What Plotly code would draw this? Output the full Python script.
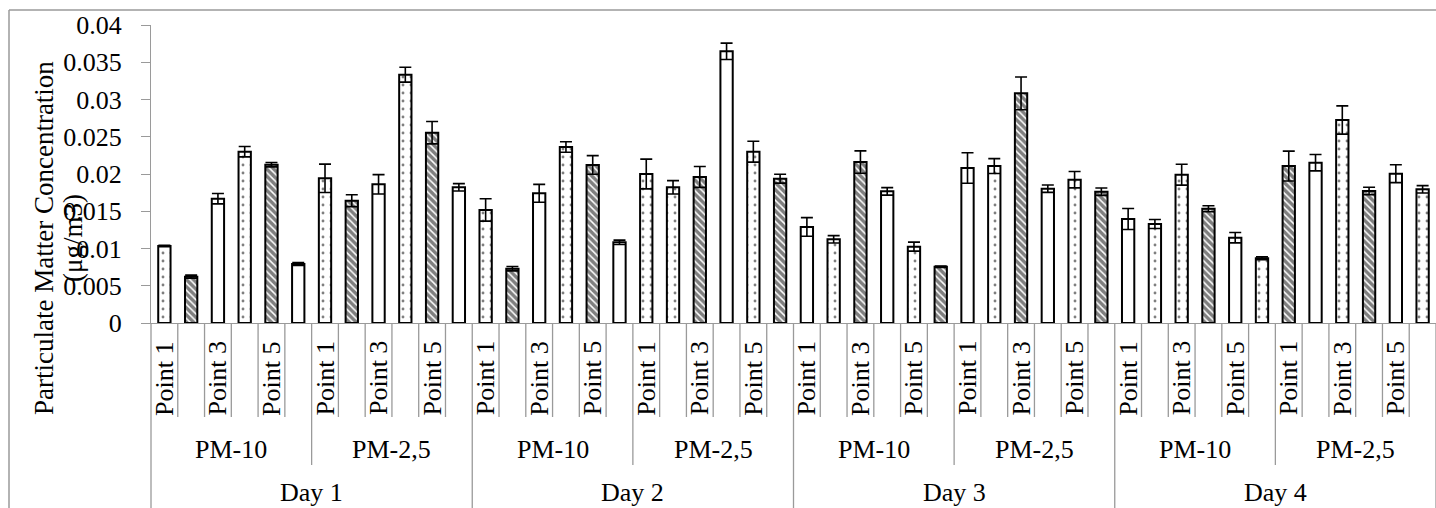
import plotly.graph_objects as go

# ---------------- data ----------------
days = ["Day 1", "Day 2", "Day 3", "Day 4"]
pm_groups = ["PM-10", "PM-2,5"]
points = ["Point 1", "Point 2", "Point 3", "Point 4", "Point 5", "Point 6"]
point_labels_shown = ["Point 1", "", "Point 3", "", "Point 5", ""]

day1_pm10 = [0.01034, 0.00622, 0.01669, 0.02300, 0.02125, 0.00792]
day1_pm25 = [0.01942, 0.01642, 0.01861, 0.03333, 0.02555, 0.01821]
day2_pm10 = [0.01517, 0.00729, 0.01741, 0.02362, 0.02121, 0.01083]
day2_pm25 = [0.02000, 0.01821, 0.01960, 0.03647, 0.02300, 0.01937]
day3_pm10 = [0.01289, 0.01123, 0.02161, 0.01767, 0.01025, 0.00756]
day3_pm25 = [0.02080, 0.02107, 0.03083, 0.01803, 0.01924, 0.01763]
day4_pm10 = [0.01396, 0.01329, 0.01991, 0.01534, 0.01145, 0.00868]
day4_pm25 = [0.02107, 0.02152, 0.02725, 0.01772, 0.02004, 0.01794]

day1_pm10_err = [0.0001, 0.0002, 0.0007, 0.0007, 0.0003, 0.0002]
day1_pm25_err = [0.0019, 0.0008, 0.0013, 0.0010, 0.0015, 0.0005]
day2_pm10_err = [0.0015, 0.0003, 0.0012, 0.0007, 0.00125, 0.0003]
day2_pm25_err = [0.0020, 0.0009, 0.0014, 0.0011, 0.0014, 0.0006]
day3_pm10_err = [0.00125, 0.0005, 0.0015, 0.0005, 0.0006, 0.0001]
day3_pm25_err = [0.00205, 0.0010, 0.0022, 0.0005, 0.0011, 0.0005]
day4_pm10_err = [0.0014, 0.0006, 0.0014, 0.0004, 0.0007, 0.0002]
day4_pm25_err = [0.0020, 0.0011, 0.0019, 0.0005, 0.0012, 0.0005]

y_tick_vals = [0, 0.005, 0.01, 0.015, 0.02, 0.025, 0.03, 0.035, 0.04]
y_tick_text = ["0", "0.005", "0.01", "0.015", "0.02", "0.025", "0.03", "0.035", "0.04"]

# ---------------- styles ----------------
D, H, P = ".", "\\", ""
bar_patterns = [
    D, H, P, D, H, P,  D, H, P, D, H, P,
    D, H, P, D, H, P,  D, D, H, P, D, H,
    P, D, H, P, D, H,  P, D, H, P, D, H,
    P, D, D, H, P, D,  H, P, D, H, P, D,
]
FONT = "Liberation Serif, Times New Roman, serif"
GRAY = "#9a9a9a"
FS = 26

values = (day1_pm10 + day1_pm25 + day2_pm10 + day2_pm25 +
          day3_pm10 + day3_pm25 + day4_pm10 + day4_pm25)
errors = (day1_pm10_err + day1_pm25_err + day2_pm10_err + day2_pm25_err +
          day3_pm10_err + day3_pm25_err + day4_pm10_err + day4_pm25_err)
n = len(values)
x_idx = list(range(n))

fig = go.Figure()
fig.add_trace(go.Bar(
    x=x_idx, y=values, width=0.46,
    marker=dict(
        color="white",
        line=dict(color="black", width=2),
        pattern=dict(shape=bar_patterns, fgcolor="black", bgcolor="white",
                     size=[8 if s == D else 5 for s in bar_patterns],
                     solidity=[0.1 if s == D else 0.7 for s in bar_patterns],
                     fillmode="overlay"),
    ),
    error_y=dict(type="data", array=errors, symmetric=True, color="black",
                 thickness=1.6, width=6),
    showlegend=False,
))

W, Hh = 1436, 508
L, R, T, B = 151, 0, 25, 185
pw = W - L - R
ph = Hh - T - B


def px_to_py(ypix):
    return (Hh - B - ypix) / ph


def px_to_px(xpix):
    return (xpix - L) / pw


shapes = []
annotations = []
n_pts = len(points)
n_grp = len(pm_groups)
# category separators
for k in range(n + 1):
    xp = k / n
    if k % (n_pts * n_grp) == 0:
        ybot = px_to_py(Hh + 5)
    elif k % n_pts == 0:
        ybot = px_to_py(465)
    else:
        ybot = px_to_py(417)
    shapes.append(dict(type="line", xref="paper", yref="paper", x0=xp, x1=xp,
                       y0=0, y1=ybot, line=dict(color=GRAY, width=1.3)))

# point labels
for i in range(n):
    lbl = point_labels_shown[i % n_pts]
    if lbl:
        annotations.append(dict(x=i, xref="x", y=px_to_py(378.5), yref="paper",
                                text=lbl, textangle=-90, showarrow=False,
                                xanchor="center", yanchor="middle",
                                font=dict(family=FONT, size=FS, color="black")))
# PM labels
for d in range(len(days)):
    for g in range(n_grp):
        start = (d * n_grp + g) * n_pts
        annotations.append(dict(x=start + (n_pts - 1) / 2, xref="x",
                                y=px_to_py(449), yref="paper", text=pm_groups[g],
                                showarrow=False, xanchor="center", yanchor="middle",
                                font=dict(family=FONT, size=FS, color="black")))
    start = d * n_grp * n_pts
    annotations.append(dict(x=start + (n_grp * n_pts - 1) / 2, xref="x",
                            y=px_to_py(492), yref="paper", text=days[d],
                            showarrow=False, xanchor="center", yanchor="middle",
                            font=dict(family=FONT, size=FS, color="black")))

# y-axis title (two lines)
annotations.append(dict(x=px_to_px(44), xref="paper", y=px_to_py(238), yref="paper",
                        text="Particulate Matter Concentration", textangle=-90,
                        showarrow=False, xanchor="center", yanchor="middle",
                        font=dict(family=FONT, size=27, color="black")))
annotations.append(dict(x=px_to_px(73), xref="paper", y=px_to_py(238), yref="paper",
                        text="(μg/m3)", textangle=-90,
                        showarrow=False, xanchor="center", yanchor="middle",
                        font=dict(family=FONT, size=27, color="black")))

# outer chart frame (left & top edges visible)
shapes.append(dict(type="line", xref="paper", yref="paper",
                   x0=px_to_px(9), x1=px_to_px(9), y0=px_to_py(10), y1=px_to_py(Hh + 5),
                   line=dict(color=GRAY, width=1.5)))
shapes.append(dict(type="line", xref="paper", yref="paper",
                   x0=px_to_px(9), x1=px_to_px(W + 5), y0=px_to_py(10), y1=px_to_py(10),
                   line=dict(color=GRAY, width=1.5)))

fig.update_layout(
    width=W, height=Hh,
    margin=dict(l=L, r=R, t=T, b=B, pad=0),
    paper_bgcolor="white", plot_bgcolor="white",
    font=dict(family=FONT, size=FS, color="black"),
    shapes=shapes, annotations=annotations,
    xaxis=dict(range=[-0.5, n - 0.5], showticklabels=False, ticks="",
               showgrid=False, zeroline=False, showline=True,
               linecolor=GRAY, linewidth=1.3, fixedrange=True),
    yaxis=dict(range=[0, 0.04], tickvals=y_tick_vals, ticktext=y_tick_text,
               ticks="outside", ticklen=9, tickcolor=GRAY, tickwidth=1.3,
               showgrid=False, zeroline=False, showline=True,
               linecolor=GRAY, linewidth=1.3, ticklabelstandoff=14,
               tickfont=dict(family=FONT, size=FS, color="black")),
)

fig.write_html("out.html",
               config={"displayModeBar": False},
               post_script="document.body.style.margin='0';"
                           "document.body.style.overflow='hidden';")
